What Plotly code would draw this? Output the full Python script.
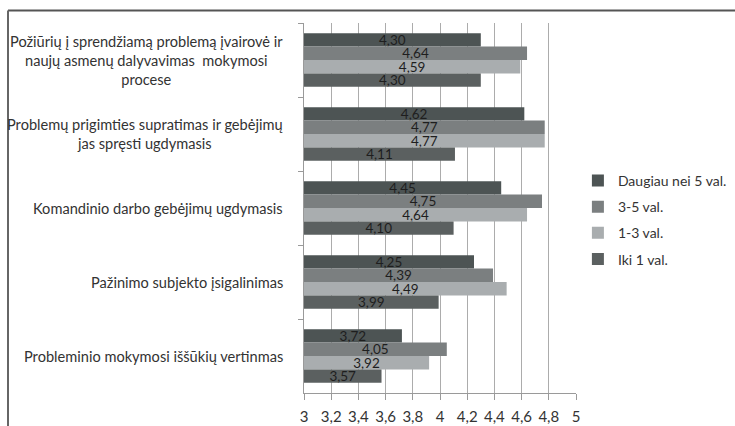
import plotly.graph_objects as go

# Survey statements (top to bottom) and mean scores per weekly-hours group
categories = [
    "Požiūrių į sprendžiamą problemą įvairovė ir<br>naujų asmenų dalyvavimas  mokymosi<br>procese",
    "Problemų prigimties supratimas ir gebėjimų<br>jas spręsti ugdymasis",
    "Komandinio darbo gebėjimų ugdymasis",
    "Pažinimo subjekto įsigalinimas",
    "Probleminio mokymosi iššūkių vertinmas",
]
series_names = ["Daugiau nei 5 val.", "3-5 val.", "1-3 val.", "Iki 1 val."]
more_than_5 = [4.30, 4.62, 4.45, 4.25, 3.72]
from_3_to_5 = [4.64, 4.77, 4.75, 4.39, 4.05]
from_1_to_3 = [4.59, 4.77, 4.64, 4.49, 3.92]
up_to_1 = [4.30, 4.11, 4.10, 3.99, 3.57]
series_values = [more_than_5, from_3_to_5, from_1_to_3, up_to_1]
colors = ["#4d5454", "#7b7f80", "#a9adaf", "#5b6060"]

axis_min = 3
tick_vals = [3 + 0.2 * i for i in range(11)]
tick_text = ["3", "3,2", "3,4", "3,6", "3,8", "4", "4,2", "4,4", "4,6", "4,8", "5"]

FONT = "Lato"

fig = go.Figure()
for name, vals, col in zip(series_names, series_values, colors):
    fig.add_trace(go.Bar(
        y=categories,
        x=[v - axis_min for v in vals],
        base=axis_min,
        orientation="h",
        name=name,
        legendgroup=name,
        marker=dict(color=col, line=dict(width=0)),
        text=[f"{v:.2f}".replace(".", ",") for v in vals],
        textposition="inside",
        insidetextanchor="middle",
        textfont=dict(family=FONT, size=13.5, color="#1e1e1e"),
        constraintext="none",
        cliponaxis=False,
    ))

# Category labels with centred line alignment
annotations = [
    dict(x=0, xref="paper", xshift=-19, xanchor="right",
         y=c, yref="y", yanchor="middle", text=c, showarrow=False,
         align="center", font=dict(family=FONT, size=14.6, color="#333333"))
    for c in categories
]

fig.update_layout(
    width=735,
    height=426,
    margin=dict(l=304, r=159, t=23, b=33, autoexpand=False),
    paper_bgcolor="white",
    plot_bgcolor="white",
    barmode="group",
    bargap=0.275,
    bargroupgap=0,
    separators=", ",
    font=dict(family=FONT, size=14, color="#333333"),
    xaxis=dict(
        range=[3, 5],
        tickvals=tick_vals,
        ticktext=tick_text,
        showgrid=True,
        gridcolor="#acacac",
        gridwidth=1,
        zeroline=False,
        showline=True,
        linecolor="#9a9a9a",
        linewidth=1,
        ticks="outside",
        ticklen=6,
        tickcolor="#9a9a9a",
        ticklabelstandoff=4,
        automargin=False,
        tickfont=dict(family=FONT, size=15, color="#333333"),
    ),
    yaxis=dict(
        autorange="reversed",
        showticklabels=False,
        showline=True,
        linecolor="#9a9a9a",
        linewidth=1,
        ticks="outside",
        tickson="boundaries",
        ticklen=5,
        tickcolor="#9a9a9a",
        showgrid=False,
        automargin=False,
    ),
    legend=dict(
        x=1.007,
        xanchor="left",
        y=0.468,
        yanchor="middle",
        tracegroupgap=5,
        itemwidth=30,
        font=dict(family=FONT, size=14, color="#333333"),
        bgcolor="rgba(0,0,0,0)",
    ),
    annotations=annotations,
    shapes=[
        # frame: top and left edges
        dict(type="line", xref="paper", yref="paper",
             x0=(8 - 304) / 272, x1=(740 - 304) / 272,
             y0=(393 - 10.5) / 370, y1=(393 - 10.5) / 370,
             line=dict(color="#555555", width=2)),
        dict(type="line", xref="paper", yref="paper",
             x0=(8 - 304) / 272, x1=(8 - 304) / 272,
             y0=(393 - 10.5) / 370, y1=(393 - 430) / 370,
             line=dict(color="#666666", width=2)),
    ],
)

fig.write_html("out.html")
